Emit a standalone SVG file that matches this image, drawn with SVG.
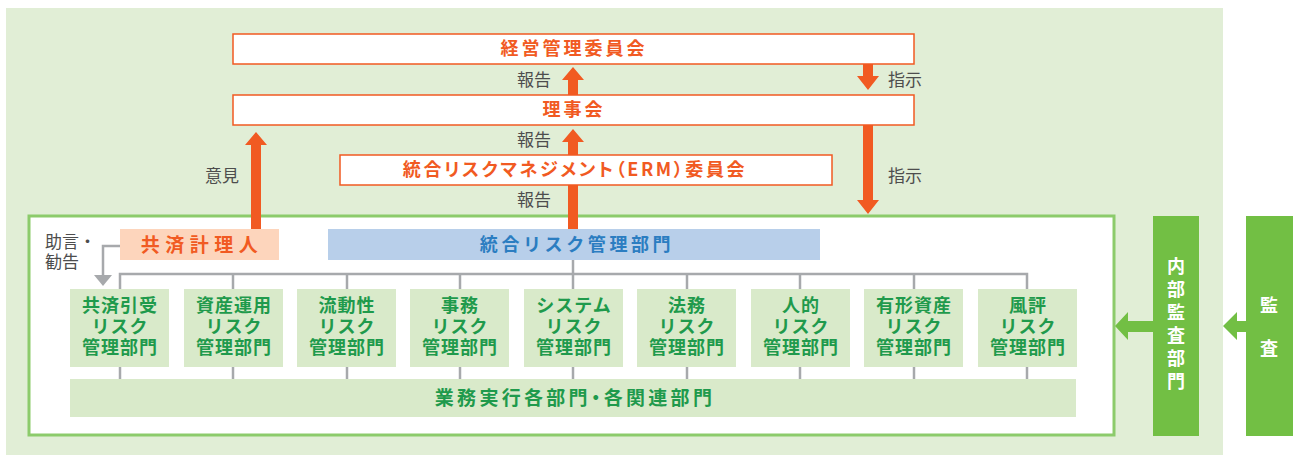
<svg xmlns="http://www.w3.org/2000/svg" width="1293" height="455" viewBox="0 0 1293 455">
<defs>
<style>
text{font-family:"Noto Sans CJK JP","Noto Sans",sans-serif;}
.ob{fill:#fff;stroke:#f15a22;stroke-width:1.5;}
.ot{fill:#f15a22;font-size:18px;font-weight:bold;text-anchor:middle;letter-spacing:3px;}
.lbl{fill:#4d4d4d;font-size:17px;}
.rb{fill:#d9eaca;}
.rt{fill:#1f9a4c;font-size:18px;font-weight:bold;text-anchor:middle;letter-spacing:1px;}
.oa{fill:#f15a22;}
.gl{stroke:#a7a9ac;stroke-width:2.5;fill:none;}
.ga{fill:#72bf44;}
.wt{fill:#fff;font-size:18px;font-weight:bold;text-anchor:middle;}
.palt{font-feature-settings:"palt";}
</style>
</defs>
<rect x="6" y="8" width="1217" height="447" fill="#e1eed6"/>
<rect x="29" y="216" width="1085" height="219" fill="#fff" stroke="#8ccb6b" stroke-width="3"/>

<g id="connectors">
<polygon class="oa" points="568,95 568,80 562,80 573,67 584,80 578,80 578,95"/>
<polygon class="oa" points="568,155 568,142 562,142 573,129 584,142 578,142 578,155"/>
<rect class="oa" x="568" y="185" width="10" height="45"/>
<polygon class="oa" points="863,64 863,76 857,76 868,90 879,76 873,76 873,64"/>
<polygon class="oa" points="863,125 863,200 857,200 868,214 879,200 873,200 873,125"/>
<polygon class="oa" points="251,230 251,145 245,145 256,132 267,145 261,145 261,230"/>
<polyline class="gl" points="120,246 103,246 103,276"/>
<polygon fill="#a7a9ac" points="94,275 112,275 103,286"/>
<line class="gl" x1="573" y1="260" x2="573" y2="274"/>
<polyline class="gl" points="120,289 120,274 1027,274 1027,289"/>
<line class="gl" x1="233" y1="274" x2="233" y2="289"/>
<line class="gl" x1="347" y1="274" x2="347" y2="289"/>
<line class="gl" x1="460" y1="274" x2="460" y2="289"/>
<line class="gl" x1="573" y1="274" x2="573" y2="289"/>
<line class="gl" x1="687" y1="274" x2="687" y2="289"/>
<line class="gl" x1="800" y1="274" x2="800" y2="289"/>
<line class="gl" x1="914" y1="274" x2="914" y2="289"/>
<line class="gl" x1="120" y1="367" x2="120" y2="379"/>
<line class="gl" x1="233" y1="367" x2="233" y2="379"/>
<line class="gl" x1="347" y1="367" x2="347" y2="379"/>
<line class="gl" x1="460" y1="367" x2="460" y2="379"/>
<line class="gl" x1="573" y1="367" x2="573" y2="379"/>
<line class="gl" x1="687" y1="367" x2="687" y2="379"/>
<line class="gl" x1="800" y1="367" x2="800" y2="379"/>
<line class="gl" x1="914" y1="367" x2="914" y2="379"/>
<line class="gl" x1="1027" y1="367" x2="1027" y2="379"/>
<polygon class="ga" points="1153,321 1128,321 1128,312 1115,326 1128,340 1128,332 1153,332"/>
<polygon class="ga" points="1246,321 1237,321 1237,312 1223,326 1237,340 1237,332 1246,332"/>
</g>

<g id="labels">
<text class="lbl" x="534" y="86" text-anchor="middle">報告</text>
<text class="lbl" x="534" y="146" text-anchor="middle">報告</text>
<text class="lbl" x="534" y="206" text-anchor="middle">報告</text>
<text class="lbl" x="888" y="86">指示</text>
<text class="lbl" x="888" y="182">指示</text>
<text class="lbl" x="205" y="182">意見</text>
<text class="lbl"><tspan x="45" y="248">助言・</tspan><tspan x="45" y="268">勧告</tspan></text>
</g>

<g id="keiei">
<rect class="ob" x="233" y="34" width="681" height="30"/>
<text class="ot" x="574" y="55">経営管理委員会</text>
</g>
<g id="rijikai">
<rect class="ob" x="233" y="95" width="681" height="30"/>
<text class="ot" x="574" y="116">理事会</text>
</g>
<g id="erm">
<rect class="ob" x="340" y="155" width="492" height="30"/>
<text class="ot palt" x="575" y="176" style="letter-spacing:2.6px">統合リスクマネジメント（ERM）委員会</text>
</g>
<g id="keirinin">
<rect x="120" y="229" width="159" height="31" fill="#fdd5bc"/>
<text class="ot" x="202" y="252" style="font-size:19px;letter-spacing:5.5px">共済計理人</text>
</g>
<g id="togo">
<rect x="328" y="229" width="492" height="31" fill="#b8cfea"/>
<text x="577" y="251" fill="#2b7dc1" font-size="18" font-weight="bold" text-anchor="middle" letter-spacing="3.6">統合リスク管理部門</text>
</g>

<g id="r1"><rect class="rb" x="70" y="289" width="99" height="78"/><text class="rt"><tspan x="120" y="312">共済引受</tspan><tspan x="120" y="333">リスク</tspan><tspan x="120" y="354">管理部門</tspan></text></g>
<g id="r2"><rect class="rb" x="184" y="289" width="99" height="78"/><text class="rt"><tspan x="234" y="312">資産運用</tspan><tspan x="234" y="333">リスク</tspan><tspan x="234" y="354">管理部門</tspan></text></g>
<g id="r3"><rect class="rb" x="297" y="289" width="99" height="78"/><text class="rt"><tspan x="347" y="312">流動性</tspan><tspan x="347" y="333">リスク</tspan><tspan x="347" y="354">管理部門</tspan></text></g>
<g id="r4"><rect class="rb" x="410" y="289" width="99" height="78"/><text class="rt"><tspan x="460" y="312">事務</tspan><tspan x="460" y="333">リスク</tspan><tspan x="460" y="354">管理部門</tspan></text></g>
<g id="r5"><rect class="rb" x="524" y="289" width="99" height="78"/><text class="rt"><tspan x="574" y="312">システム</tspan><tspan x="574" y="333">リスク</tspan><tspan x="574" y="354">管理部門</tspan></text></g>
<g id="r6"><rect class="rb" x="637" y="289" width="99" height="78"/><text class="rt"><tspan x="687" y="312">法務</tspan><tspan x="687" y="333">リスク</tspan><tspan x="687" y="354">管理部門</tspan></text></g>
<g id="r7"><rect class="rb" x="751" y="289" width="99" height="78"/><text class="rt"><tspan x="801" y="312">人的</tspan><tspan x="801" y="333">リスク</tspan><tspan x="801" y="354">管理部門</tspan></text></g>
<g id="r8"><rect class="rb" x="864" y="289" width="99" height="78"/><text class="rt"><tspan x="914" y="312">有形資産</tspan><tspan x="914" y="333">リスク</tspan><tspan x="914" y="354">管理部門</tspan></text></g>
<g id="r9"><rect class="rb" x="978" y="289" width="99" height="78"/><text class="rt"><tspan x="1028" y="312">風評</tspan><tspan x="1028" y="333">リスク</tspan><tspan x="1028" y="354">管理部門</tspan></text></g>

<g id="gyomu">
<rect class="rb" x="70" y="379" width="1006" height="38"/>
<text class="rt palt" x="575" y="405" style="font-size:19px;letter-spacing:3.3px">業務実行各部門・各関連部門</text>
</g>

<g id="naibu">
<rect class="ga" x="1153" y="216" width="46" height="220"/>
<text class="wt"><tspan x="1176" y="273">内</tspan><tspan x="1176" y="296">部</tspan><tspan x="1176" y="319">監</tspan><tspan x="1176" y="342">査</tspan><tspan x="1176" y="365">部</tspan><tspan x="1176" y="388">門</tspan></text>
</g>
<g id="kansa">
<rect class="ga" x="1246" y="216" width="47" height="220"/>
<text class="wt"><tspan x="1269" y="312">監</tspan><tspan x="1269" y="355">査</tspan></text>
</g>
</svg>
